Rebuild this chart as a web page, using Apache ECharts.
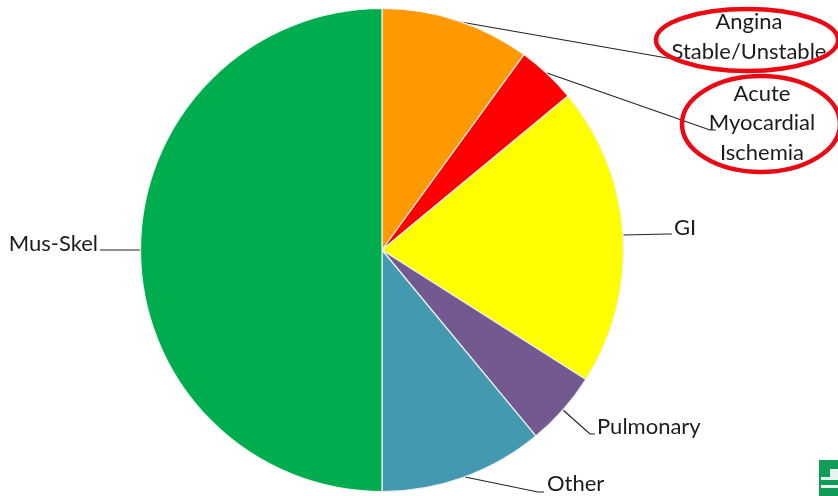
<!DOCTYPE html>
<html>
<head>
<meta charset="utf-8">
<style>
html, body { margin: 0; padding: 0; background: #fff; }
#main { width: 838px; height: 496px; }
</style>
<script src="https://cdn.jsdelivr.net/npm/echarts@6/dist/echarts.min.js"></script>
</head>
<body>
<div id="main"></div>
<script>
// chart data, clockwise from 12 o'clock
var categories = ['Angina\nStable/Unstable', 'Acute\nMyocardial\nIschemia', 'GI', 'Pulmonary', 'Other', 'Mus-Skel'];
var values = [10, 4, 20, 5, 11, 50];
var colors = ['#ff9900', '#ff0000', '#ffff00', '#725990', '#4299b0', '#00ad4e'];

// where each label goes and how its leader line bends
function labelPlace(i) {
    var places = [
        { x: 749, y: 37, align: 'center', line: [[455, 21], [667, 58], [673, 58]] },
        { x: 762, y: 123, align: 'center', line: [[547, 73], [710, 130], [716, 130]] },
        { x: 674, y: 228, align: 'left', line: [[623, 235], [668, 234], [672, 234]] },
        { x: 597, y: 427, align: 'left', line: [[563, 410], [590, 434], [595, 434]] },
        { x: 547, y: 484, align: 'left', line: [[465, 477], [538, 492], [544, 492]] },
        { x: 98, y: 244, align: 'right', line: [[142, 250], [106, 250], [100, 250]] }
    ];
    return places[i];
}

var myChart = echarts.init(document.getElementById('main'), null, { renderer: 'canvas' });

var pieData = categories.map(function (name, i) {
    return { name: name, value: values[i], itemStyle: { color: colors[i] } };
});

var option = {
    animation: false,
    backgroundColor: '#fff',
    series: [{
        type: 'pie',
        center: [382, 250],
        radius: [0, 241.5],
        startAngle: 90,
        clockwise: true,
        avoidLabelOverlap: false,
        data: pieData,
        itemStyle: { borderColor: '#f0f0f0', borderWidth: 1.2 },
        emphasis: { disabled: true },
        label: {
            show: true,
            position: 'outer',
            formatter: '{b}',
            fontFamily: 'Lato',
            fontSize: 22,
            lineHeight: 29.5,
            color: '#1c1c1c'
        },
        labelLine: {
            show: true,
            lineStyle: { color: '#222', width: 1.2 }
        },
        labelLayout: function (params) {
            var p = labelPlace(params.dataIndex);
            return {
                x: p.x,
                y: p.y,
                align: p.align,
                verticalAlign: 'middle',
                labelLinePoints: p.line
            };
        }
    }],
    graphic: [
        {
            type: 'ellipse', z: 100,
            shape: { cx: 747, cy: 40, rx: 91, ry: 31 },
            style: { fill: 'none', stroke: '#ea0a14', lineWidth: 4.5 }
        },
        {
            type: 'ellipse', z: 100,
            shape: { cx: 761, cy: 124, rx: 79, ry: 48 },
            style: { fill: 'none', stroke: '#ea0a14', lineWidth: 4.5 }
        },
        // corner logo, cut off by the edge of the slide
        { type: 'rect', z: 100, shape: { x: 819, y: 460, width: 19, height: 36 }, style: { fill: '#0f9d58' } },
        { type: 'rect', z: 101, shape: { x: 830, y: 469, width: 8, height: 8 }, style: { fill: '#e8f5ee' } },
        { type: 'rect', z: 101, shape: { x: 821, y: 477, width: 17, height: 3 }, style: { fill: '#e8f5ee' } },
        { type: 'rect', z: 101, shape: { x: 821, y: 485, width: 17, height: 3 }, style: { fill: '#e8f5ee' } }
    ]
};
myChart.setOption(option);
</script>
</body>
</html>
